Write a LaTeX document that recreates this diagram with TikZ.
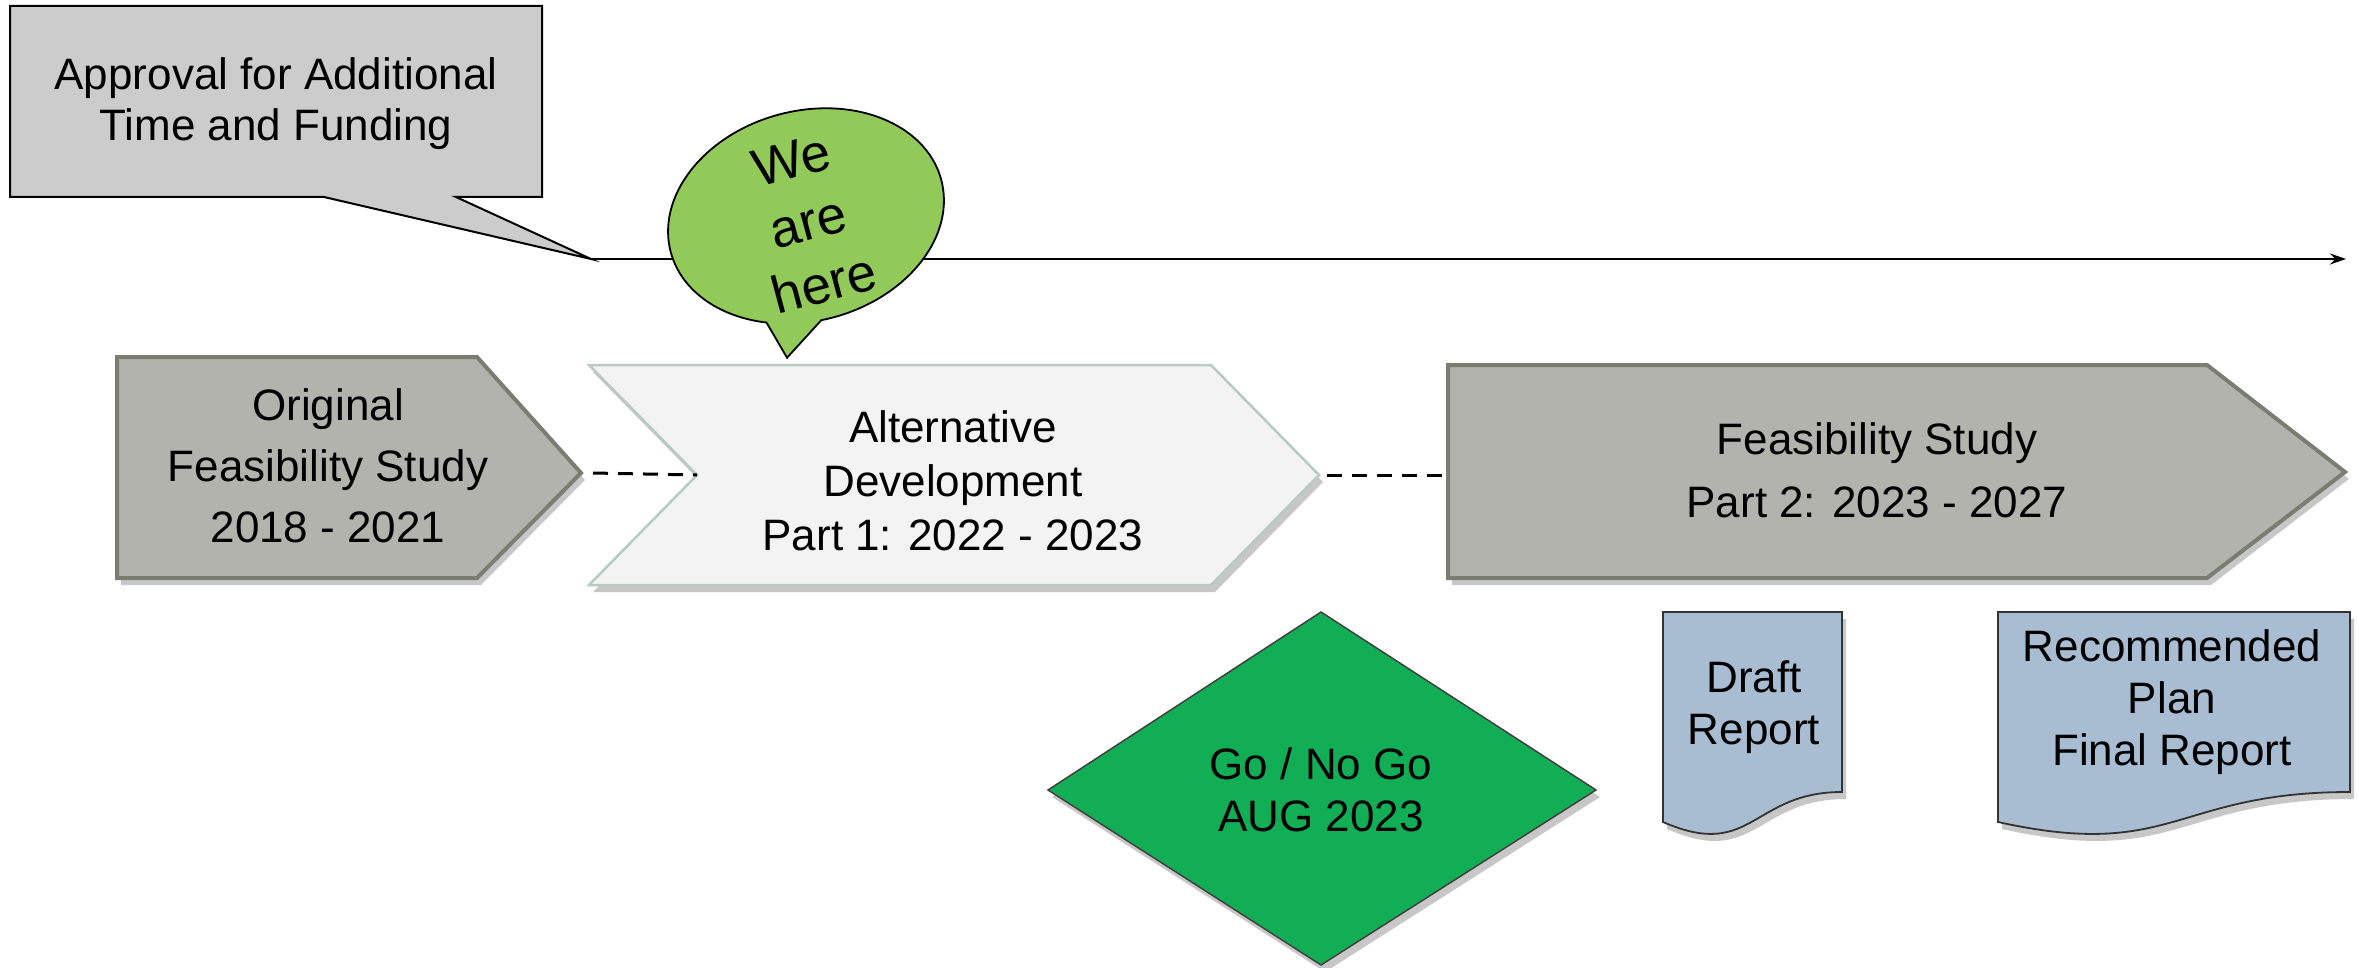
\documentclass[tikz,border=0pt]{standalone}
\usepackage{fontspec}
\setmainfont{Liberation Sans}
\usetikzlibrary{arrows.meta}
\definecolor{calloutgray}{RGB}{204,204,204}
\definecolor{chevgray}{RGB}{178,179,172}
\definecolor{chevborder}{RGB}{122,126,112}
\definecolor{altfill}{RGB}{243,243,243}
\definecolor{altborder}{RGB}{182,204,194}
\definecolor{bubblegreen}{RGB}{146,202,90}
\definecolor{diamondgreen}{RGB}{18,174,86}
\definecolor{docblue}{RGB}{168,189,210}
\begin{document}
\begin{tikzpicture}[x=1pt,y=1pt,
  txt/.style={font=\fontsize{44}{52}\selectfont, align=center, inner sep=0pt, text=black},
  shade/.style={preaction={fill=black,opacity=0.22,transform canvas={xshift=4pt,yshift=-7pt}}},
  chevbox/.style={fill=chevgray, draw=chevborder, line width=4pt, line join=miter, shade},
  altbox/.style={fill=altfill, draw=altborder, line width=2.5pt, shade},
  callbox/.style={fill=calloutgray, draw=black, line width=2pt, line join=miter},
  bubble/.style={fill=bubblegreen, draw=black, line width=1.8pt, line join=miter},
  decision/.style={fill=diamondgreen, draw=black!75, line width=1.5pt, shade},
  docbox/.style={fill=docblue, draw=black!80, line width=1.8pt, shade},
  dashline/.style={draw=black, line width=3pt, dash pattern=on 15pt off 10pt},
  timeline/.style={draw=black, line width=2pt, -{Stealth[length=16pt,width=11pt]}}
]
\useasboundingbox (0,0) rectangle (2359,-968);

% callout box
\path[callbox] (10,-6) -- (542,-6) -- (542,-197) -- (456,-197) -- (591,-259)
  -- (324,-197) -- (10,-197) -- cycle;
\node[txt, font=\fontsize{44}{51}\selectfont] (approval) at (276,-104) {Approval for Additional\\Time and Funding};

% timeline
\coordinate (tl0) at (591,-259);
\coordinate (tl1) at (2346,-259);
\draw[timeline] (tl0) -- (tl1);

% "We are here" bubble
\begin{scope}[shift={(806,-216)},rotate=15]
\path[bubble] (265:140 and 105) arc[start angle=265,end angle=602,x radius=140,y radius=105]
  -- (-55,-132) -- cycle;
\end{scope}
\node[txt, rotate=15, font=\fontsize{53}{64}\selectfont] (here) at (808,-222) {We\\are\\here};

% chevrons
\coordinate (orig-tip) at (581,-473);
\path[chevbox] (117,-357) -- (477,-357) -- (orig-tip) -- (477,-578) -- (117,-578) -- cycle;
\node[txt, font=\fontsize{44}{61}\selectfont] (orig) at (328,-466) {Original\\Feasibility Study\\2018 - 2021};

\coordinate (alt-notch) at (697,-475);
\coordinate (alt-tip) at (1319,-475);
\path[altbox] (589,-365) -- (1211,-365) -- (alt-tip) -- (1211,-585) -- (589,-585) -- (alt-notch) -- cycle;
\node[txt, font=\fontsize{44}{54}\selectfont] (alt) at (953,-481) {Alternative\\Development\\Part 1: 2022 - 2023};

\coordinate (feas-left) at (1448,-475);
\path[chevbox] (1448,-365) -- (2207,-365) -- (2345,-472) -- (2207,-578) -- (1448,-578) -- cycle;
\node[txt, font=\fontsize{44}{63}\selectfont] (feas) at (1877,-470) {Feasibility Study\\Part 2: 2023 - 2027};

% dashed connectors
\draw[dashline] ([xshift=12pt]orig-tip) -- (alt-notch);
\draw[dashline] ([xshift=8pt]alt-tip) -- (feas-left);

% decision diamond
\path[decision] (1321,-612) -- (1596,-790) -- (1321,-965) -- (1048,-790) -- cycle;
\node[txt] (gonogo) at (1321,-790) {Go / No Go\\AUG 2023};

% documents
\path[docbox] (1663,-612) -- (1842,-612) -- (1842,-792)
  .. controls (1752,-792) and (1752,-861) .. (1663,-822) -- cycle;
\node[txt] (draft) at (1754,-707) {Draft\\Report};

\path[docbox] (1998,-612) -- (2350,-612) -- (2350,-792)
  .. controls (2174,-792) and (2174,-861) .. (1998,-822) -- cycle;
\node[txt] (final) at (2172,-702) {Recommended\\Plan\\Final Report};
\end{tikzpicture}
\end{document}
